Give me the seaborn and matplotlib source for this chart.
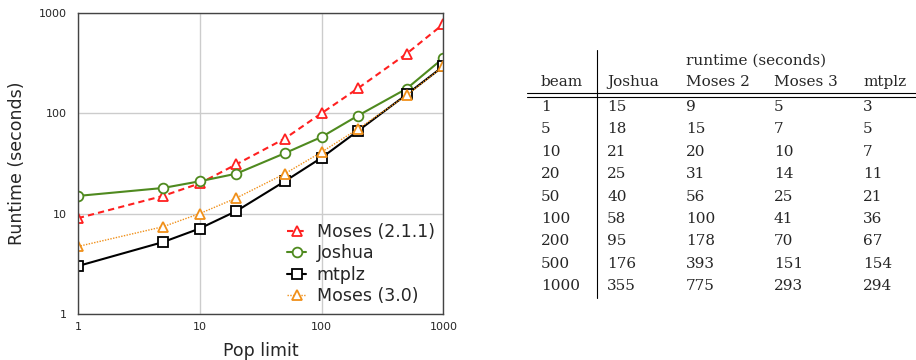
import numpy as np
import pandas as pd
import matplotlib.pyplot as plt
import seaborn as sns

beam = [1, 5, 10, 20, 50, 100, 200, 500, 1000]
joshua = [15, 18, 21, 25, 40, 58, 95, 176, 355]
moses2 = [9, 15, 20, 31, 56, 100, 178, 393, 775]
moses3 = [4.7, 7.4, 10, 14.3, 25, 41, 70, 151, 293]
mtplz = [3, 5.2, 7.1, 10.6, 21, 36, 67, 154, 294]

table_moses3 = [5, 7, 10, 14, 25, 41, 70, 151, 293]
table_mtplz = [3, 5, 7, 11, 21, 36, 67, 154, 294]

sns.set_style("whitegrid")
plt.rcParams['font.family'] = ['DejaVu Sans']

fig = plt.figure(figsize=(9.16, 3.6), dpi=100)
ax = fig.add_axes([0.085, 0.128, 0.399, 0.836])

series = [
    ("Moses (2.1.1)", moses2, "#ff2020", "^", (0, (3, 2)), 1.5),
    ("Joshua", joshua, "#4f8a1f", "o", "-", 1.5),
    ("mtplz", mtplz, "black", "s", "-", 1.5),
    ("Moses (3.0)", moses3, "#f0901a", "^", (0, (1, 1)), 1.0),
]
for name, vals, col, mk, ls, lw in series:
    df = pd.DataFrame({"beam": beam, "runtime": vals})
    sns.lineplot(data=df, x="beam", y="runtime", ax=ax, color=col, marker=mk,
                 linestyle=ls, linewidth=lw, markersize=7, markerfacecolor="white",
                 markeredgecolor=col, markeredgewidth=1.3, label=name)

ax.set_xscale("log")
ax.set_yscale("log")
ax.set_xlim(1, 1000)
ax.set_ylim(1, 1000)
ax.set_xticks([1, 10, 100, 1000], labels=["1", "10", "100", "1000"])
ax.set_yticks([1, 10, 100, 1000], labels=["1", "10", "100", "1000"])
ax.minorticks_off()
ax.tick_params(labelsize=8, length=0)
ax.tick_params(axis="x", pad=6)
ax.tick_params(axis="y", pad=8)
ax.grid(True, which="major", color="#cccccc", linewidth=1)
for s in ax.spines.values():
    s.set_color("#444444")
    s.set_linewidth(1)
ax.set_xlabel("Pop limit", fontsize=12.5, labelpad=7)
ax.set_ylabel("Runtime (seconds)", fontsize=12.5, labelpad=9)
leg = ax.legend(loc="lower right", frameon=False, fontsize=12.5, handlelength=1.1,
                handletextpad=0.6, labelspacing=0.2, borderaxespad=0.1)

# table on the right
serif = ['DejaVu Serif']
fs = 11
col_x = [541, 607, 686, 774, 863]
W, H = 916, 360
def t(x, y, s):
    fig.text(x / W, 1 - y / H, s, fontsize=fs, family=serif, ha="left", va="center")

t(686, 61, "runtime (seconds)")
for x, h in zip(col_x, ["beam", "Joshua", "Moses 2", "Moses 3", "mtplz"]):
    t(x, 82, h)
row_y0, row_dy = 107, 22.4
for i in range(len(beam)):
    y = row_y0 + i * row_dy
    for x, v in zip(col_x, [beam[i], joshua[i], moses2[i], table_moses3[i], table_mtplz[i]]):
        t(x, y, str(v))

fig.add_artist(plt.Line2D([527 / W, 1.0], [1 - 93 / H, 1 - 93 / H], color="black", lw=0.8))
fig.add_artist(plt.Line2D([527 / W, 1.0], [1 - 96.5 / H, 1 - 96.5 / H], color="black", lw=0.8))
fig.add_artist(plt.Line2D([597 / W, 597 / W], [1 - 50 / H, 1 - 298 / H], color="black", lw=0.8))

fig.savefig("out.png", dpi=100)
